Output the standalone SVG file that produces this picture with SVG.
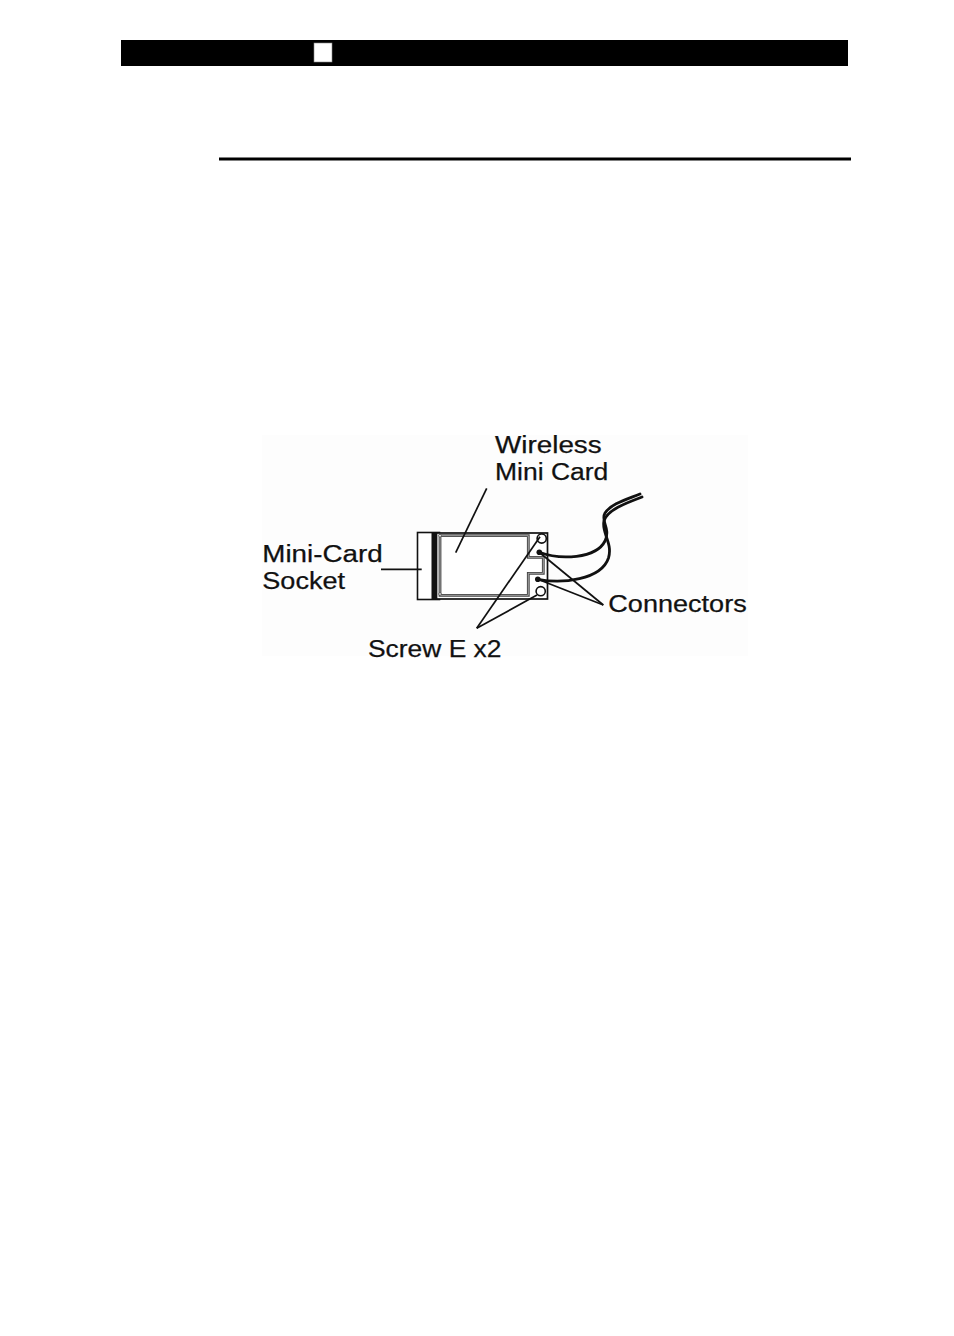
<svg xmlns="http://www.w3.org/2000/svg" width="954" height="1336" viewBox="0 0 954 1336">
<style>
.lbl{font-family:"Liberation Sans",Arial,sans-serif;font-size:23.5px;fill:#111;stroke:#111;stroke-width:0.25}
.ln{stroke:#111;stroke-width:1.7;fill:none}
.cable{stroke:#111;stroke-width:2.8;fill:none;stroke-linecap:round}
</style>
<rect width="954" height="1336" fill="#fff"/>
<g id="header">
<rect x="121" y="40" width="727" height="26" fill="#000"/>
<rect x="314" y="43" width="18" height="19" fill="#fff" stroke="#888" stroke-width="0.6"/>
<rect x="219" y="157.5" width="632" height="3" fill="#000"/>
</g>
<g id="figure">
<rect x="262" y="435" width="486" height="221" fill="#fdfdfd"/>
<g id="socket">
<rect x="417.5" y="532.5" width="22" height="67" fill="#fff" stroke="#111" stroke-width="1.6"/>
<rect x="431.5" y="532.5" width="8" height="67" fill="#111"/>
</g>
<g id="card">
<rect x="436.5" y="533" width="111" height="66" fill="#fff" stroke="#111" stroke-width="1.7"/>
<path d="M440,535.7 H528.3 V557.3 H543.3 V573.3 H528.3 V595.3 H440 Z" fill="none" stroke="#444" stroke-width="2.8"/>
<path d="M440,535.7 H528.3 V557.3 H543.3 V573.3 H528.3 V595.3 H440 Z" fill="none" stroke="#ccc" stroke-width="0.7"/>
<circle cx="440" cy="535.7" r="1.3" fill="#fff" stroke="#333" stroke-width="0.6"/>
<circle cx="440" cy="594" r="1.3" fill="#fff" stroke="#333" stroke-width="0.6"/>
<circle cx="541.7" cy="538.5" r="4.6" fill="#fff" stroke="#111" stroke-width="1.6"/>
<circle cx="540.7" cy="591.2" r="4.6" fill="#fff" stroke="#111" stroke-width="1.6"/>
<circle cx="539.3" cy="552.3" r="2.8" fill="#111"/>
<circle cx="537.8" cy="579.3" r="2.8" fill="#111"/>
</g>
<g id="cables">
<path class="cable" d="M539.3,552.3 C560,560 596,559 605,541 C611,528 600,521 605,513 C611,504 625,500 640,494"/>
<path class="cable" d="M537.8,579.3 C562,584 601,580 608.5,558 C613,543 601,532 604,521 C607,510 626,503 642,497"/>
</g>
<g id="connectors">
<line class="ln" x1="486.7" y1="488.3" x2="455.7" y2="552.7"/>
<line class="ln" x1="381" y1="569.3" x2="421.7" y2="569.3"/>
<line class="ln" x1="476.7" y1="628.3" x2="540" y2="536.7"/>
<line class="ln" x1="476.7" y1="628.3" x2="537" y2="595"/>
<line class="ln" x1="603.3" y1="605" x2="539.5" y2="552.5"/>
<line class="ln" x1="603.3" y1="605" x2="538.5" y2="579.5"/>
</g>
<g id="labels">
<text class="lbl" x="495" y="453.3" textLength="106.7" lengthAdjust="spacingAndGlyphs">Wireless</text>
<text class="lbl" x="495" y="480.3" textLength="113.3" lengthAdjust="spacingAndGlyphs">Mini Card</text>
<text class="lbl" x="262.3" y="561.7" textLength="120.4" lengthAdjust="spacingAndGlyphs">Mini-Card</text>
<text class="lbl" x="262.3" y="588.5" textLength="82.7" lengthAdjust="spacingAndGlyphs">Socket</text>
<text class="lbl" x="608.3" y="611.7" textLength="138.4" lengthAdjust="spacingAndGlyphs">Connectors</text>
<text class="lbl" x="368" y="656.5" textLength="133.5" lengthAdjust="spacingAndGlyphs">Screw E x2</text>
</g>
</g>
</svg>
